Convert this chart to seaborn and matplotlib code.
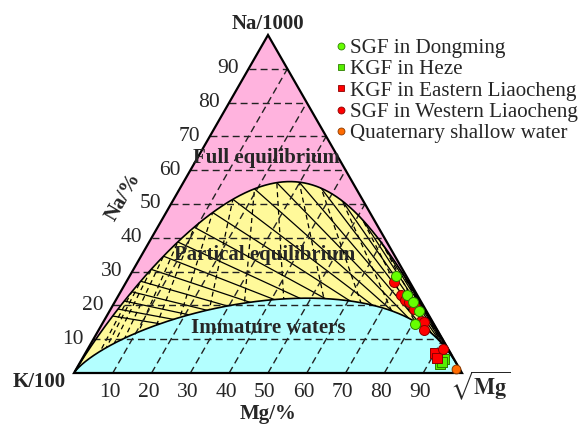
import matplotlib

matplotlib.use("Agg")
import matplotlib.pyplot as plt
import numpy as np
import pandas as pd
import seaborn as sns
from matplotlib.lines import Line2D
from matplotlib.patches import Polygon

# Samples: Na % and Mg % (K % is the remainder)
dongming_na = [28.7, 23.1, 21.0, 18.3, 14.5]
dongming_mg = [68.6, 74.2, 76.9, 79.8, 80.6]
heze_na = [5.3, 4.0, 2.8, 3.4]
heze_mg = [92.0, 93.4, 92.9, 93.1]
east_na = [5.9, 4.4]
east_mg = [90.1, 91.3]
west_na = [26.9, 23.1, 21.6, 21.0, 19.6, 18.9, 15.5, 15.1, 12.7, 7.1]
west_mg = [69.1, 72.7, 74.5, 75.8, 78.1, 78.2, 81.6, 82.6, 83.8, 91.5]
shallow_na = [1.3]
shallow_mg = [97.7]

group_labels = [
    "SGF in Dongming",
    "KGF in Heze",
    "KGF in Eastern Liaocheng",
    "SGF in Western Liaocheng",
    "Quaternary shallow water",
]

na_ticks = [10, 20, 30, 40, 50, 60, 70, 80, 90]
mg_ticks = [10, 20, 30, 40, 50, 60, 70, 80, 90]

# isotherms (deg C) drawn inside the partial-equilibrium field
nak_temps = [20, 40, 60, 80, 100, 120, 140, 160, 180, 200, 220, 240, 260,
             280, 300, 320, 340, 360, 380, 400]
kmg_temps = [20, 40, 60, 80, 100, 120, 140, 160, 180, 200, 220, 240, 260,
             280, 300, 320, 340]

"Стиль"
PINK = "#FFB3DE"
YELLOW = "#FFF99A"
CYAN = "#B3FFFF"
styles = [
    ("o", "#66FF00", "#2E7D00", 52),
    ("s", "#55EE00", "#2E7D00", 50),
    ("s", "#FF0000", "#8B0000", 50),
    ("o", "#FF0000", "#8B0000", 52),
    ("o", "#FF6A00", "#8B3A00", 40),
]

S3 = np.sqrt(3) / 2


def to_xy(na, mg):
    na = np.asarray(na, float)
    mg = np.asarray(mg, float)
    return mg + na / 2, na * S3


def giggenbach(t, mi=None):
    """Na-K / K-Mg composition for temperature t (full eq. or given maturity index)."""
    tk = np.asarray(t, float) + 273.15
    log_r = 1390 / tk - 1.75  # log(Na/K)
    if mi is None:
        log_q = 14.0 - 4410 / tk  # log(K^2/Mg)
    else:
        log_q = (mi - log_r) / 0.315
    a = 10**log_r / 10  # Na/1000 with K = 100
    b = np.ones_like(a)  # K/100
    c = 100 / 10 ** (log_q / 2)  # sqrt(Mg)
    s = a + b + c
    return to_xy(100 * a / s, 100 * c / s)


sns.set_style("white")
plt.rcParams["font.family"] = ["Liberation Serif", "DejaVu Serif"]
plt.rcParams["mathtext.fontset"] = "stix"

fig = plt.figure(figsize=(5.82, 4.26), dpi=100)
ax = fig.add_axes([0, 0, 1, 1])
ax.set_xlim(-19.07, 130.93)
ax.set_ylim(-13.58, 95.57)
ax.axis("off")

"Поля"
temps = np.concatenate([np.linspace(3000, 400, 300), np.linspace(400, -40, 700)])
fx, fy = giggenbach(temps)
ix, iy = giggenbach(temps, mi=2.0)
tri = np.array([[0, 0], [100, 0], [50, 100 * S3]])
ax.add_patch(Polygon(tri, closed=True, fc=PINK, ec="none", zorder=1))
full_poly = np.vstack([[0, 0], np.column_stack([fx, fy]), [100, 0]])
ax.add_patch(Polygon(full_poly, closed=True, fc=YELLOW, ec="none", zorder=2))
imm_poly = np.vstack([[0, 0], np.column_stack([ix, iy]), [100, 0]])
ax.add_patch(Polygon(imm_poly, closed=True, fc=CYAN, ec="none", zorder=3))

partial = Polygon(
    np.vstack([np.column_stack([fx, fy]), np.column_stack([ix, iy])[::-1]]),
    closed=True, fc="none", ec="none",
)
ax.add_patch(partial)

"Изотермы"
for t in nak_temps:
    r = 10 ** (1390 / (t + 273.15) - 1.75) / 10
    ex, ey = to_xy(100 * r / (r + 1), 0)
    (ln,) = ax.plot([100, ex], [0, ey], color="black", lw=0.9, zorder=4)
    ln.set_clip_path(partial)
for t in kmg_temps:
    c = 100 / 10 ** ((14.0 - 4410 / (t + 273.15)) / 2)
    mg = 100 * c / (1 + c)
    (ln,) = ax.plot([50, mg], [100 * S3, 0], color="black", lw=0.9,
                    ls=(0, (4, 3)), zorder=4)
    ln.set_clip_path(partial)

"Сетка"
for v in na_ticks:
    x0, y0 = to_xy(v, 0)
    x1, y1 = to_xy(v, 100 - v)
    ax.plot([x0, x1], [y0, y1], color="#222222", lw=1.0, ls=(0, (5, 3)), zorder=5)
    ax.text(x0 - 2.4, y0, str(v), ha="right", va="center", fontsize=15.5, zorder=8)
for v in mg_ticks:
    x0, y0 = to_xy(0, v)
    x1, y1 = to_xy(100 - v, v)
    ax.plot([x0, x1], [y0, y1], color="#222222", lw=1.0, ls=(0, (5, 3)), zorder=5)
    ax.text(x0 - 0.8, -5.0, str(v), ha="center", va="center", fontsize=15.5, zorder=8)

ax.plot(fx, fy, color="black", lw=1.2, zorder=6)
ax.plot(ix, iy, color="black", lw=1.2, zorder=6)
ax.add_patch(Polygon(tri, closed=True, fc="none", ec="black", lw=1.6, zorder=7))

"Точки"
groups = [
    (dongming_na, dongming_mg),
    (heze_na, heze_mg),
    (east_na, east_mg),
    (west_na, west_mg),
    (shallow_na, shallow_mg),
]
frames = []
for label, (na, mg) in zip(group_labels, groups):
    x, y = to_xy(na, mg)
    frames.append(pd.DataFrame({"x": x, "y": y, "group": label}))
data = pd.concat(frames, ignore_index=True)
order = [1, 2, 3, 0, 4]
for i in order:
    label = group_labels[i]
    marker, face, edge, size = styles[i]
    sns.scatterplot(
        data=data[data["group"] == label], x="x", y="y", marker=marker, s=size,
        color=face, edgecolor=edge, linewidth=0.7, ax=ax, zorder=9, legend=False,
    )

"Подписи"
bold = {"fontsize": 15, "fontweight": "bold", "zorder": 10}
ax.text(50, 89.4, "Na/1000", ha="center", va="center", **bold)
ax.text(-2.0, -2.3, "K/100", ha="right", va="center", **bold)
ax.text(96.8, 1.0, r"$\sqrt{\mathbf{Mg}}$", ha="left", va="top", fontsize=16, zorder=10)
ax.text(12.8, 45.0, "Na/%", ha="center", va="center", rotation=60, **bold)
ax.text(50, -10.6, "Mg/%", ha="center", va="center", **bold)
ax.text(49.5, 55.1, "Full equilibrium", ha="center", va="center", **bold)
ax.text(49.2, 30.2, "Partical equilibrium", ha="center", va="center", **bold)
ax.text(50, 11.5, "Immature waters", ha="center", va="center", **bold)

handles = [
    Line2D([], [], ls="", marker=m, mfc=f, mec=e, mew=0.6, ms=5)
    for m, f, e, _ in styles
]
ax.legend(
    handles, group_labels, loc="upper left", bbox_to_anchor=(0.577, 0.910),
    frameon=False, fontsize=15.1, handlelength=0.5, handletextpad=0.18,
    labelspacing=0.08, borderpad=0, borderaxespad=0,
)

fig.savefig("out.png", dpi=100)
plt.close(fig)
